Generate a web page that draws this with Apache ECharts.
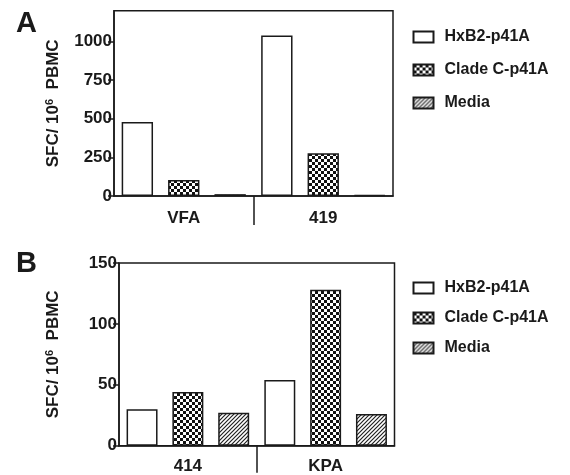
<!DOCTYPE html>
<html>
<head>
<meta charset="utf-8">
<script src="https://cdn.jsdelivr.net/npm/echarts@6/dist/echarts.min.js"></script>
<style>html,body{margin:0;padding:0;background:#fff}#c{width:570px;height:475px}</style>
</head>
<body>
<div id="c"></div>
<script>
// ---- data ----
const seriesNames = ['HxB2-p41A', 'Clade C-p41A', 'Media'];
const categoriesA = ['VFA', '419'];
const hxb2A = [480, 1039];
const cladeCA = [104, 277];
const mediaA = [12, 5];
const yTicksA = [0, 250, 500, 750, 1000];
const yMaxA = 1200;

const categoriesB = ['414', 'KPA'];
const hxb2B = [30, 54];
const cladeCB = [44, 128];
const mediaB = [27, 26];
const yTicksB = [0, 50, 100, 150];
const yMaxB = 150;

const panelLabels = ['A', 'B'];
const yTitle = '{a|SFC/ 10}{s|6}{a|  PBMC}';

// ---- patterns ----
function checker() {
  const c = document.createElement('canvas');
  c.width = 6; c.height = 6;
  const g = c.getContext('2d');
  g.fillStyle = '#fff'; g.fillRect(0, 0, 6, 6);
  g.fillStyle = '#111'; g.fillRect(0, 0, 3, 3); g.fillRect(3, 3, 3, 3);
  return c;
}
function hatch() {
  const c = document.createElement('canvas');
  c.width = 4; c.height = 4;
  const g = c.getContext('2d');
  g.fillStyle = '#fff'; g.fillRect(0, 0, 4, 4);
  g.strokeStyle = '#222'; g.lineWidth = 1.2;
  g.beginPath();
  g.moveTo(0, 4); g.lineTo(4, 0);
  g.moveTo(-1, 1); g.lineTo(1, -1);
  g.moveTo(3, 5); g.lineTo(5, 3);
  g.stroke();
  return c;
}
const fills = ['#ffffff', {image: checker(), repeat: 'repeat'}, {image: hatch(), repeat: 'repeat'}];

const FONT = "'Liberation Sans', Arial, Helvetica, sans-serif";
const INK = '#1a1a1a';

function yAxis(gi, ticks, max, gap) {
  return {
    type: 'value', gridIndex: gi, min: 0, max: max,
    splitLine: {show: false},
    axisLine: {show: true, lineStyle: {color: INK, width: 1.5}},
    axisTick: {show: true, length: 6, lineStyle: {color: INK, width: 1.5}, customValues: ticks},
    axisLabel: {customValues: ticks, margin: 2, color: INK, fontSize: 17, fontWeight: 'bold', fontFamily: FONT,
      formatter: (v) => String(v)},
    name: yTitle, nameLocation: 'middle', nameGap: gap, nameRotate: 90,
    nameTextStyle: {
      color: INK,
      rich: {
        a: {fontSize: 17, fontWeight: 'bold', fontFamily: FONT, color: INK, lineHeight: 18},
        s: {fontSize: 11, fontWeight: 'bold', fontFamily: FONT, color: INK, verticalAlign: 'top', lineHeight: 18}
      }
    }
  };
}
function xAxis(gi, cats, margin) {
  return {
    type: 'category', gridIndex: gi, data: cats, position: 'bottom',
    axisLine: {show: true, lineStyle: {color: INK, width: 1.5}},
    axisTick: {show: false},
    axisLabel: {margin: margin, color: INK, fontSize: 17, fontWeight: 'bold', fontFamily: FONT}
  };
}
function sepAxis(gi, cats, len) {
  // helper axis: one tick between the two groups
  return {
    type: 'category', gridIndex: gi, boundaryGap: false, position: 'bottom',
    data: [''].concat(cats.map(() => '')),
    axisLine: {show: false}, axisLabel: {show: false},
    axisTick: {show: true, inside: false, length: len, interval: (i) => i === 1, lineStyle: {color: INK, width: 1.5}}
  };
}
function bars(gi, vals) {
  return vals.map((v, k) => ({
    name: seriesNames[k], type: 'bar', xAxisIndex: gi * 2, yAxisIndex: gi,
    data: v, barCategoryGap: '11%', barGap: '48%',
    itemStyle: {color: fills[k], borderColor: INK, borderWidth: 1.5},
    emphasis: {disabled: true}
  }));
}
function legend(top, gap) {
  return {
    data: seriesNames, orient: 'vertical', left: 407.5, top: top, itemGap: gap,
    itemWidth: 20, itemHeight: 11, icon: 'rect', selectedMode: false,
    textStyle: {color: INK, fontSize: 16, fontWeight: 'bold', fontFamily: FONT, lineHeight: 16, padding: [0, 0, 0, 6]}
  };
}

const option = {
  animation: false,
  backgroundColor: '#fff',
  title: [
    {text: panelLabels[0], left: 11, top: 4, textStyle: {fontSize: 29, fontWeight: 'bold', fontFamily: FONT, color: INK}},
    {text: panelLabels[1], left: 11, top: 244, textStyle: {fontSize: 29, fontWeight: 'bold', fontFamily: FONT, color: INK}}
  ],
  grid: [
    {left: 114, top: 10.7, width: 279, height: 185.3, show: true, borderColor: INK, borderWidth: 1.5, containLabel: false},
    {left: 119, top: 263, width: 275.5, height: 182.7, show: true, borderColor: INK, borderWidth: 1.5, containLabel: false}
  ],
  xAxis: [
    xAxis(0, categoriesA, 14), sepAxis(0, categoriesA, 29),
    xAxis(1, categoriesB, 12), sepAxis(1, categoriesB, 27)
  ],
  yAxis: [yAxis(0, yTicksA, yMaxA, 52), yAxis(1, yTicksB, yMaxB, 57)],
  legend: [legend(24, 17), legend(275, 14)],
  series: bars(0, [hxb2A, cladeCA, mediaA]).concat(bars(1, [hxb2B, cladeCB, mediaB]))
};

const chart = echarts.init(document.getElementById('c'), null, {renderer: 'canvas'});
chart.setOption(option);
</script>
</body>
</html>
